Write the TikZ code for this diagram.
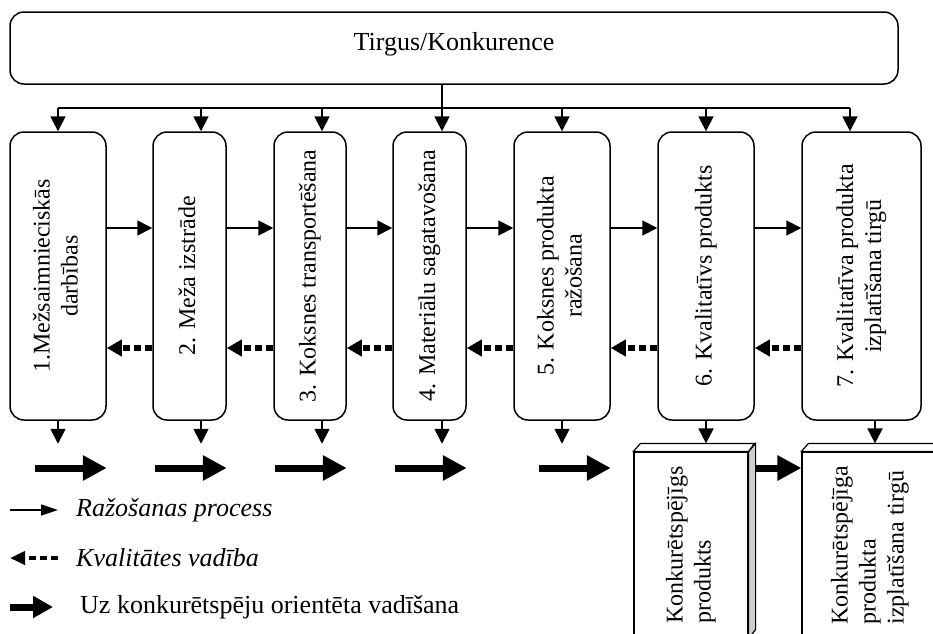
\documentclass[tikz,border=0pt]{standalone}
\usepackage{fontspec}
\setmainfont{Liberation Serif}
\usepackage{graphicx}
\usetikzlibrary{arrows.meta}
\newcommand{\vtext}[1]{\rotatebox{90}{\begin{tabular}{@{}c@{}}#1\end{tabular}}}
\newcommand{\vtextl}[1]{\rotatebox{90}{\begin{tabular}{@{}l@{}}#1\end{tabular}}}

\begin{document}
\begin{tikzpicture}[x=1pt,y=-1pt,
    stage/.style={draw,line width=1.5pt,rounded corners=14pt,minimum height=288pt,inner sep=0pt,font=\fontsize{24}{28}\selectfont},
    prod/.style={draw,line width=1.2pt,fill=white,minimum height=186pt,inner sep=0pt,font=\fontsize{24}{28}\selectfont},
    flow/.style={line width=1.8pt,-{Triangle[length=15pt,width=15pt]}},
    ctrl/.style={line width=6pt,dash pattern=on 7pt off 4pt,-{Triangle[length=15pt,width=16pt]}},
    comp/.style={line width=7pt,-{Triangle[length=24pt,width=24pt]}},
    legendtext/.style={anchor=west,inner sep=0pt,font=\fontsize{26}{30}\selectfont}]

        \useasboundingbox (0,0) rectangle (933,633);
        \clip (0,0) rectangle (933,633);

        \node[draw,line width=1.5pt,rounded corners=14pt,minimum width=888pt,minimum height=72pt] (mkt) at (454,48) {};
        \node[font=\fontsize{26}{30}\selectfont] (mkttext) at ([yshift=4pt]mkt.center) {Tirgus/Konkurence};

        \node[stage,minimum width=96pt] (s1) at (58,276) {\vtext{1.Mežsaimnieciskās\\darbības}};
        \node[stage,minimum width=73pt] (s2) at (189.5,276) {\vtext{2. Meža izstrāde}};
        \node[stage,minimum width=72pt] (s3) at (310,276) {\vtext{3. Koksnes transportēšana}};
        \node[stage,minimum width=73pt] (s4) at (429.5,276) {\vtext{4. Materiālu sagatavošana}};
        \node[stage,minimum width=96pt] (s5) at (562,276) {\vtext{5. Koksnes produkta\\ražošana}};
        \node[stage,minimum width=96pt] (s6) at (706,276) {\vtext{6. Kvalitatīvs produkts}};
        \node[stage,minimum width=119pt] (s7) at (861.5,276) {\vtext{7. Kvalitatīva produkta\\izplatīšana tirgū}};

        \node[prod,minimum width=114pt] (kp1) at (691,545) {\vtextl{Konkurētspējīgs\\produkts}};
        \node[prod,minimum width=136pt] (kp2) at (870,545) {\vtextl{Konkurētspējīga\\produkta\\izplatīšana tirgū}};
        \draw[line width=1.2pt,fill=black!20] (kp1.north east) -- ++(7,-8) -- ++(0,186) -- (kp1.south east) -- cycle;
        \draw[line width=1.2pt,fill=white] (kp1.north west) -- ++(7,-8) -- ++(114,0) -- (kp1.north east) -- cycle;
        \draw[line width=1.2pt,fill=white] (kp2.north west) -- ++(7,-8) -- ++(136,0) -- (kp2.north east) -- cycle;
        \coordinate (kp1top) at ([yshift=8pt]kp1.north);
        \coordinate (kp2top) at ([yshift=8pt]kp2.north);

        \coordinate (bus) at (442,108);
        \coordinate (row) at (0,468);
        \foreach \s/\dx [count=\i] in {s1/0,s2/11.5,s3/12,s4/12.5,s5/0,s6/0,s7/-11.5}
            \coordinate (in\i) at ([xshift=\dx pt]\s.north);

        \draw[flow] (mkt.south -| bus) -- (in4);
        \draw[line width=1.8pt] (bus -| in1) -- (bus -| in7);
        \foreach \i in {1,2,3,5,6,7}
            \draw[flow] (bus -| in\i) -- (in\i);

        \foreach \s/\dx in {s1/0,s2/11.5,s3/12,s4/12.5,s5/0}
            \draw[flow] ([xshift=\dx pt]\s.south) -- ++(0,23);
        \coordinate (out7) at ([xshift=13.5pt]s7.south);
        \draw[flow] (s6.south) -- (s6.south |- kp1top);
        \draw[flow] (out7) -- (out7 |- kp2top);

        \foreach \a/\b in {s1/s2,s2/s3,s3/s4,s4/s5,s5/s6,s6/s7} {
            \draw[flow] ([yshift=48pt]\a.east) -- ([yshift=48pt]\b.west);
            \draw[ctrl] ([yshift=-72pt]\b.west) -- ([yshift=-72pt]\a.east);
        }

        \foreach \s in {s1,s2,s3,s4,s5}
            \draw[comp] (row -| \s.east) ++(-72,0) -- ++(72,0);
        \draw[comp] (row -| kp1.east) ++(7,0) -- (row -| kp2.west);

        \node[legendtext] (lg1) at (76,510) {\textit{Ražošanas process}};
        \node[legendtext] (lg2) at (76,558) {\textit{Kvalitātes vadība}};
        \node[legendtext] (lg3) at (80,607) {Uz konkurētspēju orientēta vadīšana};
        \draw[line width=1.5pt,-{Triangle[length=17pt,width=11pt]}] (lg1.west) ++(-66,0) -- ++(48,0);
        \draw[line width=4pt,dash pattern=on 7pt off 4pt,-{Triangle[length=15pt,width=13pt]}] (lg2.west) ++(-18,0) -- ++(-48,0);
        \draw[line width=7pt,-{Triangle[length=20pt,width=21pt]}] (lg3.west) ++(-70,0) -- ++(43,0);
    \end{tikzpicture}
\end{document}
